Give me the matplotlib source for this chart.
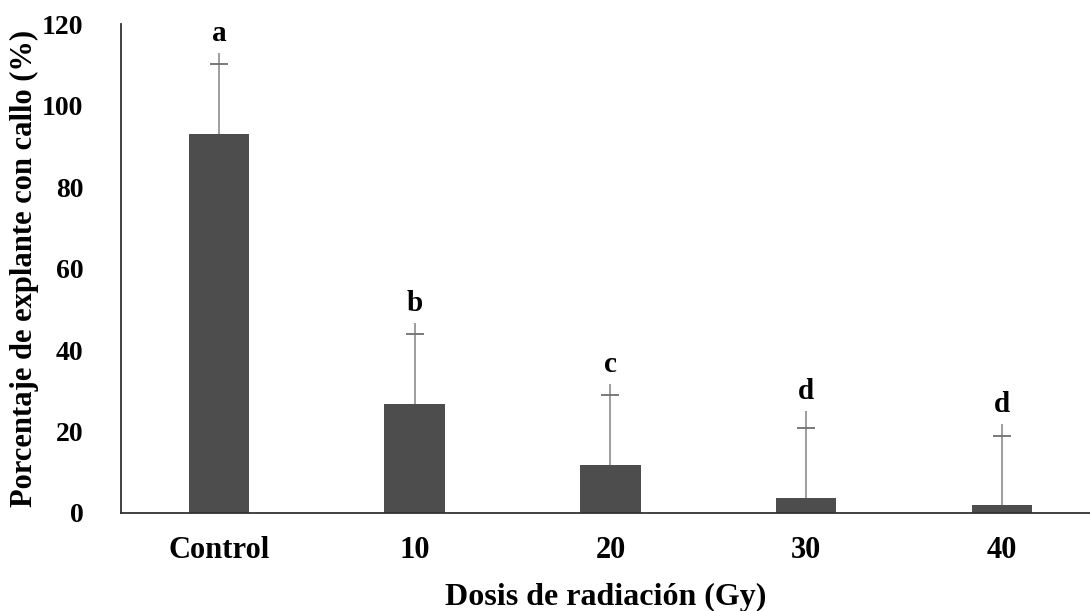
import matplotlib.pyplot as plt
import numpy as np

categories = ["Control", "10", "20", "30", "40"]
pct_mean = [93.0, 26.7, 11.8, 3.7, 2.0]
pct_sd = [17.2, 17.2, 17.2, 17.2, 16.9]
line_top = [112.9, 46.6, 31.7, 25.0, 21.8]
letters = ["a", "b", "c", "d", "d"]

plt.rcParams['font.family'] = ['Liberation Serif', 'DejaVu Serif']
plt.rcParams['font.weight'] = 'bold'

fig = plt.figure(figsize=(10.9, 6.11), dpi=100)
ax = fig.add_axes([0.111, 0.1604, 0.889, 0.8003])

x = np.arange(len(categories))
ax.bar(x, pct_mean, width=0.31, color='#4d4d4d', zorder=2)

caps = np.array(pct_mean) + np.array(pct_sd)
ax.vlines(x, pct_mean, line_top, color='#8c8c8c', lw=1.2, zorder=3)
ax.plot(x, caps, linestyle='none', marker='_', markersize=13, mew=1.3,
        color='#707070', zorder=3)

for xi, top, lab in zip(x, line_top, letters):
    ax.annotate(lab, (xi, top), xytext=(0, 14), textcoords='offset points',
                ha='center', va='center', fontsize=21, fontweight='bold')

ax.set_xlim(-0.5, 4.45)
ax.set_ylim(0, 120)
ax.set_yticks(range(0, 121, 20))
ax.set_xticks(x)
ax.set_xticklabels(categories)
ax.tick_params(length=0)
ax.tick_params(axis='y', pad=27, labelsize=20)
ax.tick_params(axis='x', pad=16.5, labelsize=22)

for s in ['top', 'right']:
    ax.spines[s].set_visible(False)
for s in ['left', 'bottom']:
    ax.spines[s].set_color('#333333')
    ax.spines[s].set_linewidth(1.3)

ax.set_xlabel("Dosis de radiación (Gy)", fontsize=23, fontweight='bold', labelpad=13)
ax.set_ylabel("Porcentaje de explante con callo (%)", fontsize=22, fontweight='bold', labelpad=2)

fig.savefig("out.png", dpi=100)
